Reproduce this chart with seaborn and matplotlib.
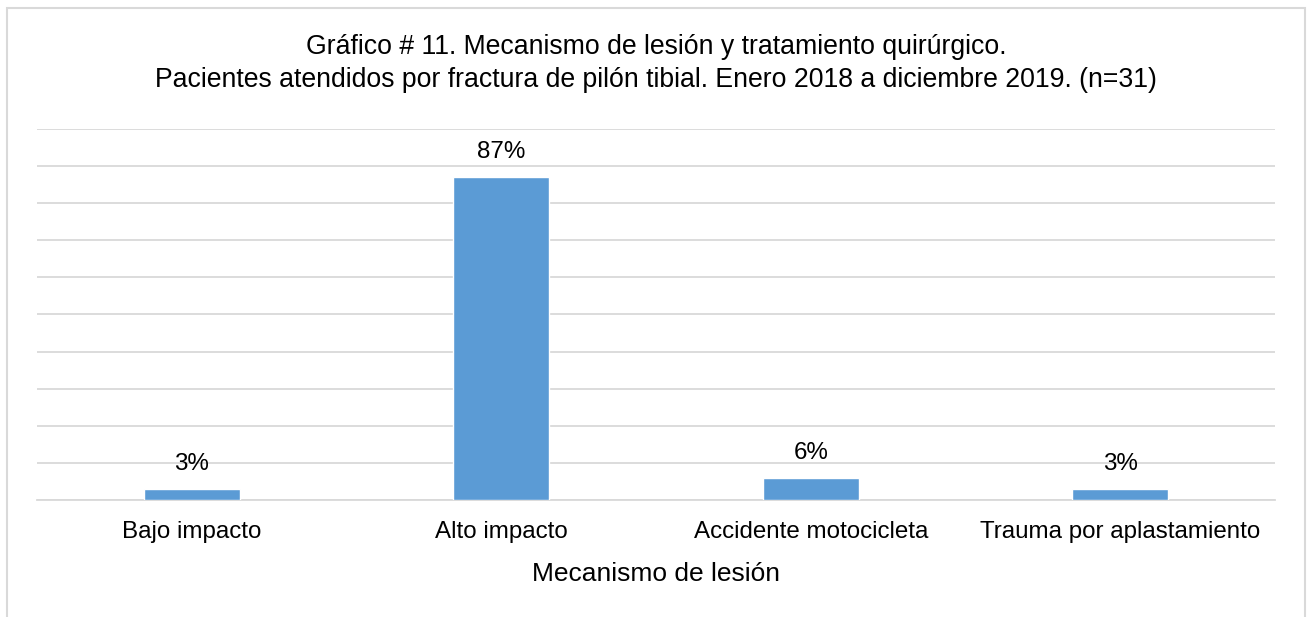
import matplotlib
matplotlib.use("Agg")
import matplotlib.pyplot as plt
import seaborn as sns
import pandas as pd
from matplotlib.patches import Rectangle

# data
categorias = ["Bajo impacto", "Alto impacto", "Accidente motocicleta", "Trauma por aplastamiento"]
porcentajes = [3, 87, 6, 3]

sns.set_theme(style="white")
plt.rcParams["font.family"] = ["Liberation Sans", "DejaVu Sans"]

df = pd.DataFrame({"mecanismo": categorias, "pct": porcentajes})

fig = plt.figure(figsize=(13.12, 6.17), dpi=100)
ax = fig.add_axes([0.0282, 0.1896, 0.9436, 0.6014])

sns.barplot(data=df, x="mecanismo", y="pct", color="#5B9BD5", width=0.31,
            saturation=1, ax=ax, zorder=3)

ax.set_ylim(0, 100)
ax.set_xlim(-0.5, 3.5)
ax.set_yticks(range(0, 101, 10))
ax.set_yticklabels([])
ax.tick_params(axis="y", length=0)
ax.tick_params(axis="x", length=0, labelsize=17.4, pad=15, colors="black")
ax.yaxis.grid(True, color="#D9D9D9", linewidth=1.3, zorder=0)
for s in ["top", "right", "left"]:
    ax.spines[s].set_visible(False)
ax.spines["bottom"].set_color("#D9D9D9")
ax.spines["bottom"].set_linewidth(1.3)

for i, v in enumerate(porcentajes):
    ax.text(i, v + 3.8, f"{v}%", ha="center", va="bottom", fontsize=17.4, color="black")

ax.set_xlabel("Mecanismo de lesión", fontsize=19, labelpad=14, color="black")
ax.set_ylabel("")

fig.text(0.5, 0.924, "Gráfico # 11. Mecanismo de lesión y tratamiento quirúrgico.",
         ha="center", va="center", fontsize=19.2, color="black")
fig.text(0.5, 0.871, "Pacientes atendidos por fractura de pilón tibial. Enero 2018 a diciembre 2019. (n=31)",
         ha="center", va="center", fontsize=19.2, color="black")

# chart area frame
fig.patches.append(Rectangle((7 / 1312, -0.05), (1305 - 7) / 1312, 1.05 - 8 / 617,
                             transform=fig.transFigure, fill=False,
                             edgecolor="#D9D9D9", linewidth=1.5))

fig.savefig("out.png", dpi=100)
